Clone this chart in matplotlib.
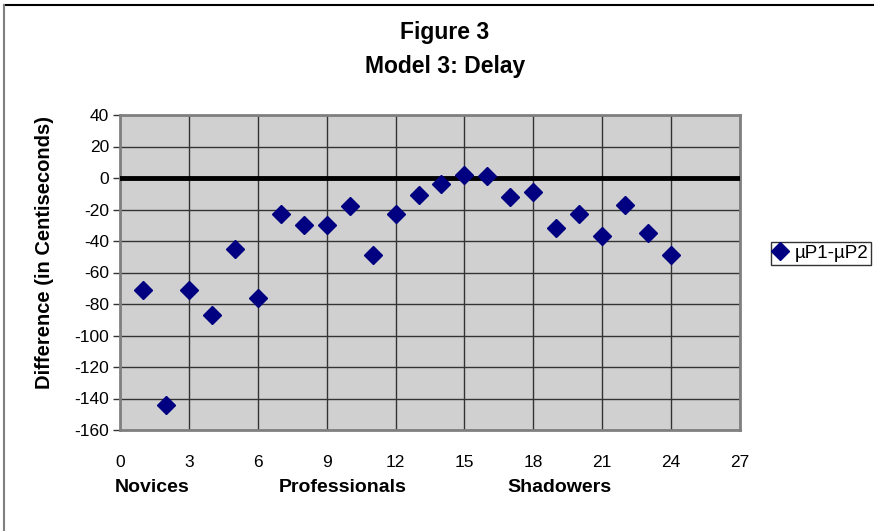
import matplotlib
matplotlib.use("Agg")
import matplotlib.pyplot as plt
from matplotlib.lines import Line2D

plt.rcParams['font.family'] = ['Liberation Sans', 'DejaVu Sans']
plt.rcParams['axes.unicode_minus'] = False

# participant number and mean difference P1-P2 (centiseconds)
subject = list(range(1, 25))
diff = [-71, -144, -71, -87, -45, -76, -23, -30, -30, -18, -49, -23,
        -11, -4, 2, 1, -12, -9, -32, -23, -37, -17, -35, -49]

groups = ["Novices", "Professionals", "Shadowers"]
group_x = [152, 343, 559]   # pixel centres of the group captions

W, H = 874, 531
fig = plt.figure(figsize=(W / 100, H / 100), dpi=100)
ax = fig.add_axes([120 / W, 1 - 430 / H, 620 / W, 315 / H])

ax.set_facecolor('#d0d0d0')
ax.plot(subject, diff, linestyle='none', marker='D', markersize=9.5,
        color='#000080', label='µP1-µP2', zorder=5)
ax.axhline(0, color='black', lw=3.5, zorder=4)

ax.set_xlim(0, 27)
ax.set_ylim(-160, 40)
ax.set_xticks(range(0, 28, 3))
ax.set_yticks(range(-160, 41, 20))
ax.grid(True, color='#333333', lw=1)
ax.set_axisbelow(True)
for s in ax.spines.values():
    s.set_color('#808080')
    s.set_linewidth(2)
ax.tick_params(axis='x', length=0, pad=18, labelsize=12.5)
ax.tick_params(axis='y', length=5, width=1, color='#333333', pad=3, labelsize=12.5)

fig.text(445 / W, 1 - 33 / H, "Figure 3", ha='center', va='center',
         fontsize=16.5, fontweight='bold')
fig.text(445 / W, 1 - 66 / H, "Model 3: Delay", ha='center', va='center',
         fontsize=16.5, fontweight='bold')
fig.text(45 / W, 1 - 252 / H, "Difference (in Centiseconds)", rotation=90,
         ha='center', va='center', fontsize=14.5, fontweight='bold')
for g, gx in zip(groups, group_x):
    fig.text(gx / W, 1 - 488 / H, g, ha='center', va='center',
             fontsize=14, fontweight='bold')

leg = fig.legend(loc='upper left', bbox_to_anchor=(771 / W, 1 - 242 / H),
                 fontsize=13.5, frameon=True, fancybox=False, handlelength=0.7,
                 handletextpad=0.4, borderpad=0.15, borderaxespad=0)
leg.get_frame().set_edgecolor('black')
leg.get_frame().set_linewidth(1)

# outer chart frame (top and left edges visible)
fig.add_artist(Line2D([4 / W, 1], [1 - 5 / H, 1 - 5 / H], color='black', lw=1.5))
fig.add_artist(Line2D([4 / W, 4 / W], [0, 1 - 5 / H], color='#808080', lw=1.5))

fig.savefig('out.png', dpi=100)
